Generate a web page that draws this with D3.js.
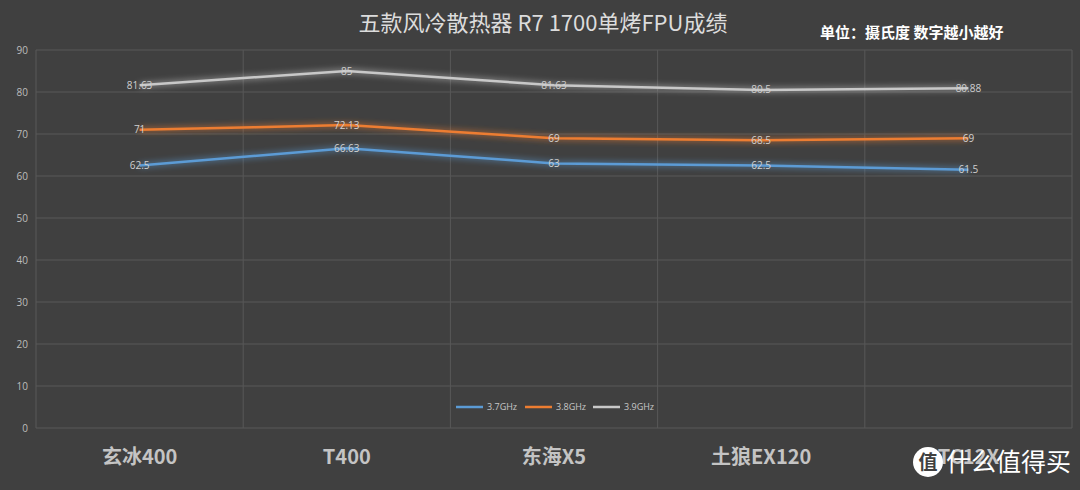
<!DOCTYPE html>
<html><head><meta charset="utf-8">
<script src="https://cdn.jsdelivr.net/npm/d3@7"></script>
<style>html,body{margin:0;padding:0;background:#404040;}svg{display:block;}</style>
</head><body><svg id="c" width="1080" height="490"></svg>
<script>
const categories = ["玄冰400", "T400", "东海X5", "土狼EX120", "TC12X"];
const seriesNames = ["3.7GHz", "3.8GHz", "3.9GHz"];
const s37 = [62.5, 66.63, 63, 62.5, 61.5];
const s38 = [71, 72.13, 69, 68.5, 69];
const s39 = [81.63, 85, 81.63, 80.5, 80.88];
const yTicks = [0, 10, 20, 30, 40, 50, 60, 70, 80, 90];
const colors = ["#5b9bd5", "#ed7d31", "#c8c8c8"];
const series = [s37, s38, s39];

const svg = d3.select("#c");
svg.append("rect").attr("width",1080).attr("height",490).attr("fill","#404040");
const defs = svg.append("defs");
const f = defs.append("filter").attr("id","glow").attr("x","-10%").attr("y","-200%").attr("width","120%").attr("height","500%");
f.append("feGaussianBlur").attr("in","SourceGraphic").attr("stdDeviation",3).attr("result","b");
const m = f.append("feMerge");
m.append("feMergeNode").attr("in","b");
m.append("feMergeNode").attr("in","SourceGraphic");

const L = 36, R = 1072, T = 50, B = 428;
const x = d3.scaleBand().domain(categories).range([L, R]);
const y = d3.scaleLinear().domain([0, 90]).range([B, T]);

// horizontal grid
svg.append("g").selectAll("line").data(yTicks).join("line")
  .attr("x1", L).attr("x2", R).attr("y1", d => y(d)).attr("y2", d => y(d))
  .attr("stroke", "#585858").attr("stroke-width", 1);
// vertical grid at band boundaries
const bounds = categories.map(c => x(c)).concat([R]);
svg.append("g").selectAll("line").data(bounds).join("line")
  .attr("x1", d => d).attr("x2", d => d).attr("y1", T).attr("y2", B)
  .attr("stroke", "#585858").attr("stroke-width", 1);

// y axis labels
const yAxis = d3.axisLeft(y).tickValues(yTicks).tickSize(0).tickPadding(0);
const ga = svg.append("g").attr("transform", `translate(28,0)`).call(yAxis);
ga.select(".domain").remove();
ga.selectAll("text").attr("fill","#bdbdbd").attr("font-size",10)
  .attr("font-family","'Open Sans', 'Noto Sans', sans-serif").attr("text-anchor","end");

// x axis labels
const xAxis = d3.axisBottom(x).tickSize(0).tickPadding(0);
const gx = svg.append("g").attr("transform", `translate(0,458)`).call(xAxis);
gx.select(".domain").remove();
gx.selectAll("text").attr("fill","#c4c4c4").attr("font-size",20).attr("font-weight",600)
  .attr("dy","0.32em")
  .attr("font-family","'Noto Sans CJK SC', sans-serif");

// lines
const cx = c => x(c) + x.bandwidth()/2;
const line = d3.line().x((d,i) => cx(categories[i])).y(d => y(d));
series.forEach((s, k) => {
  svg.append("path").datum(s).attr("d", line).attr("fill","none")
    .attr("stroke", colors[k]).attr("stroke-width", 2.5).attr("filter","url(#glow)");
});
// data labels
series.forEach((s, k) => {
  svg.append("g").selectAll("text").data(s).join("text")
    .attr("x", (d,i) => cx(categories[i])).attr("y", d => y(d)).attr("dy","0.35em")
    .attr("text-anchor","middle").attr("fill","#d0d0d0").attr("font-size",10)
    .attr("font-family","'Open Sans', 'Noto Sans', sans-serif")
    .text(d => d);
});

// legend
const legX = [456, 525, 593];
const lg = svg.append("g");
seriesNames.forEach((n, k) => {
  lg.append("line").attr("x1", legX[k]).attr("x2", legX[k]+27).attr("y1", 407).attr("y2", 407)
    .attr("stroke", colors[k]).attr("stroke-width", 2.5);
  lg.append("text").attr("x", legX[k]+31).attr("y", 407).attr("dy","0.35em")
    .attr("fill","#c8c8c8").attr("font-size",9)
    .attr("font-family","'Open Sans', 'Noto Sans', sans-serif").text(n);
});

// title
svg.append("text").attr("x", 543).attr("y", 23).attr("text-anchor","middle").attr("dy","0.35em")
  .attr("fill","#dcdcdc").attr("font-size",22)
  .attr("font-family","'Noto Sans CJK SC', sans-serif").text("五款风冷散热器 R7 1700单烤FPU成绩");
svg.append("text").attr("x", 820).attr("y", 33).attr("dy","0.35em")
  .attr("fill","#ffffff").attr("font-size",15).attr("font-weight","bold")
  .attr("font-family","'Noto Sans CJK SC', sans-serif").text("单位：摄氏度 数字越小越好");

// watermark
const wm = svg.append("g");
wm.append("circle").attr("cx", 928).attr("cy", 462).attr("r", 15).attr("fill","#ffffff");
wm.append("text").attr("x", 928).attr("y", 462).attr("dy","0.35em").attr("text-anchor","middle")
  .attr("fill","#404040").attr("font-size",19).attr("font-weight","bold")
  .attr("font-family","'Noto Sans CJK SC', sans-serif").text("值");
wm.append("text").attr("x", 946).attr("y", 462).attr("dy","0.35em")
  .attr("fill","#ffffff").attr("font-size",25)
  .attr("font-family","'Noto Sans CJK SC', sans-serif").text("什么值得买");
</script></body></html>
